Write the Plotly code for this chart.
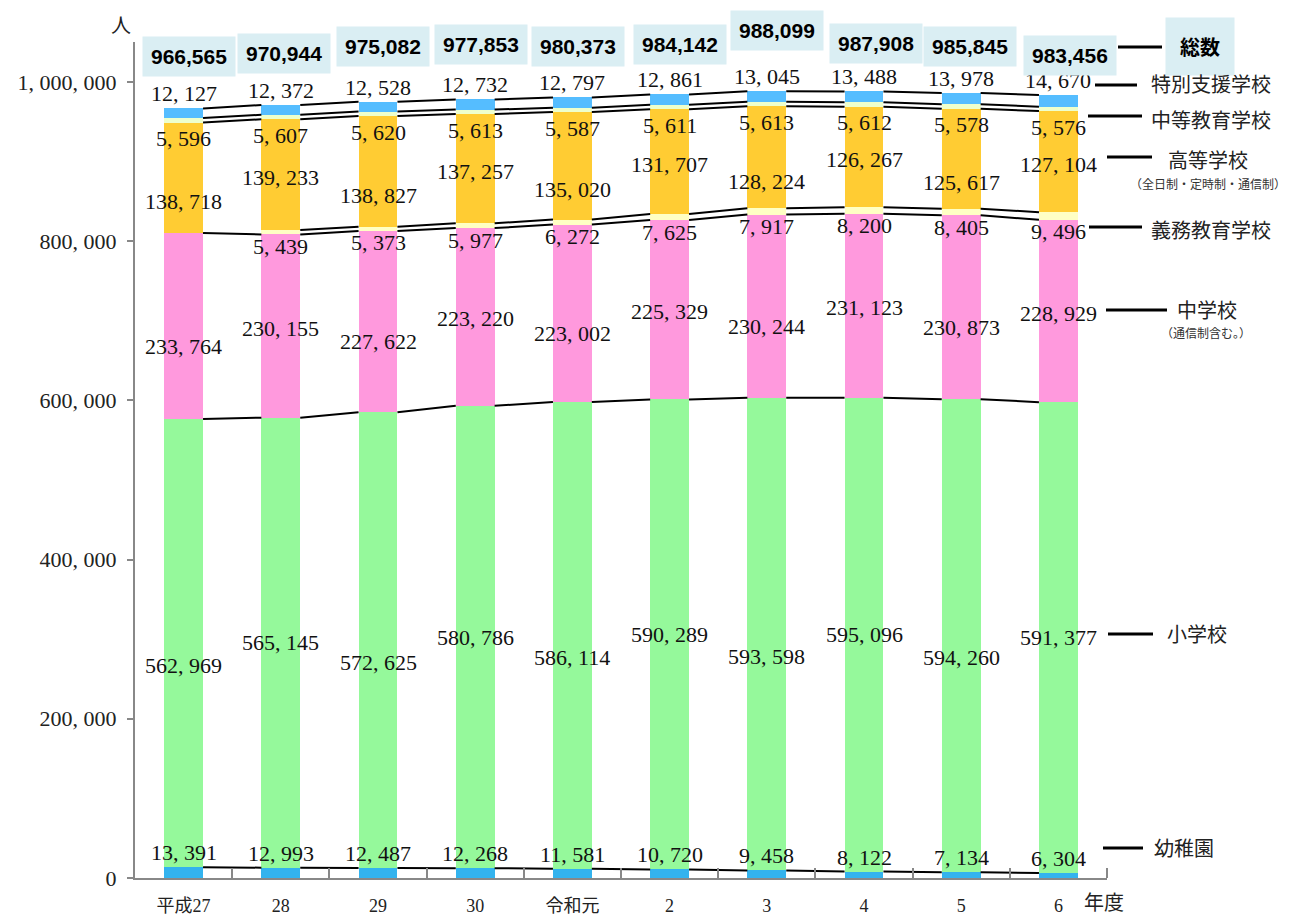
import plotly.graph_objects as go

years = ["平成27", "28", "29", "30", "令和元", "2", "3", "4", "5", "6"]

kindergarten = [13391, 12993, 12487, 12268, 11581, 10720, 9458, 8122, 7134, 6304]
elementary = [562969, 565145, 572625, 580786, 586114, 590289, 593598, 595096, 594260, 591377]
junior_high = [233764, 230155, 227622, 223220, 223002, 225329, 230244, 231123, 230873, 228929]
compulsory = [0, 5439, 5373, 5977, 6272, 7625, 7917, 8200, 8405, 9496]
high_school = [138718, 139233, 138827, 137257, 135020, 131707, 128224, 126267, 125617, 127104]
secondary = [5596, 5607, 5620, 5613, 5587, 5611, 5613, 5612, 5578, 5576]
special = [12127, 12372, 12528, 12732, 12797, 12861, 13045, 13488, 13978, 14670]
totals = [966565, 970944, 975082, 977853, 980373, 984142, 988099, 987908, 985845, 983456]

y_ticks = [0, 200000, 400000, 600000, 800000, 1000000]

series = [
    ("幼稚園", kindergarten, "#33b3ee"),
    ("小学校", elementary, "#95f99b"),
    ("中学校", junior_high, "#ff99dd"),
    ("義務教育学校", compulsory, "#ffffc4"),
    ("高等学校", high_school, "#ffcc33"),
    ("中等教育学校", secondary, "#eeffcc"),
    ("特別支援学校", special, "#55bdff"),
]

SERIF = "Liberation Serif, Noto Sans CJK JP, serif"
SANS_JP = "Noto Sans CJK JP, sans-serif"
BAR_W = 0.4

# plot box in screenshot pixels; the page body adds an 8px offset
PAGE = 8
L, R, T, B = 135, 1107, 42, 878


def px(x):
    return (x - L) / (R - L)


def py(y):
    return (B - y) / (B - T)


def fmt(v):
    return f"{v:,}".replace(",", ", ")


xs = list(range(len(years)))

fig = go.Figure()
for name, vals, color in series:
    fig.add_trace(go.Bar(
        x=xs, y=vals, name=name, width=BAR_W,
        marker=dict(color=color, line=dict(width=0)),
        hoverinfo="y+name",
    ))

# cumulative tops
cum = []
run = [0] * len(xs)
for _, vals, _ in series:
    run = [a + b for a, b in zip(run, vals)]
    cum.append(run)

# connector lines between bars
for k, tops in enumerate(cum):
    lx, ly = [], []
    for i in range(len(xs) - 1):
        if k == 3 and compulsory[i] == 0:
            continue
        lx += [i + BAR_W / 2, i + 1 - BAR_W / 2, None]
        ly += [tops[i], tops[i + 1], None]
    fig.add_trace(go.Scatter(
        x=lx, y=ly, mode="lines", line=dict(color="black", width=2),
        hoverinfo="skip", showlegend=False,
    ))

lab_font = dict(family=SERIF, size=22, color="#111")
ann = []


def label(i, y, v, yshift, yanchor="middle"):
    ann.append(dict(x=i, y=y, xref="x", yref="y", text=fmt(v), showarrow=False,
                    font=lab_font, yshift=yshift, xanchor="center", yanchor=yanchor))


for i in xs:
    stag = i % 2 == 0
    label(i, cum[0][i], kindergarten[i], 0, "bottom")
    label(i, cum[0][i] + elementary[i] / 2, elementary[i], -22 if stag else 0)
    label(i, cum[1][i] + junior_high[i] / 2, junior_high[i], -20 if stag else -2)
    if compulsory[i] > 0:
        label(i, cum[2][i], compulsory[i], -12)
    label(i, cum[3][i] + high_school[i] / 2, high_school[i], -24 if stag else -3)
    label(i, cum[4][i], secondary[i], -16)
    label(i, cum[6][i], special[i], 0, "bottom")

# total boxes
box_dx = [5, 3, 5, 6, 6, 10, 10, 12, 9, 12]
box_y = [57, 53, 47, 45, 46, 45, 30, 44, 47, 55]
for i in xs:
    ann.append(dict(
        x=i, xref="x", y=py(box_y[i]), yref="paper", xshift=box_dx[i],
        xanchor="center", yanchor="middle",
        text=f"<b>{totals[i]:,}</b>", showarrow=False,
        font=dict(family="Liberation Sans, Arial, sans-serif", size=21, color="black"),
        bgcolor="#daeef3", borderpad=8,
    ))

# side legend labels
side = [
    ("<b>総数</b>", 1200, 47, 20, (1118, 1162, 47)),
    ("特別支援学校", 1211, 84, 20, (1095, 1137, 85)),
    ("中等教育学校", 1211, 120, 20, (1088, 1142, 116)),
    ("高等学校", 1208, 159, 20, (1107, 1152, 157)),
    ("義務教育学校", 1211, 229, 20, (1089, 1142, 227)),
    ("中学校", 1207, 309, 20, (1106, 1167, 310)),
    ("小学校", 1197, 633, 20, (1108, 1153, 634)),
    ("幼稚園", 1184, 847, 20, (1103, 1143, 848)),
]
shapes = []


def free_text(text, cx, cy, size, **kw):
    a = dict(x=px(cx), y=py(cy), xref="paper", yref="paper", text=text,
             showarrow=False, xanchor="center", yanchor="middle",
             font=dict(family=SANS_JP, size=size, color=kw.pop("color", "#222")))
    a.update(kw)
    ann.append(a)


for text, cx, cy, size, (x0, x1, ly) in side:
    if text == "<b>総数</b>":
        free_text(text, cx, cy, size, bgcolor="#daeef3", borderpad=14, color="black")
    else:
        free_text(text, cx, cy, size)
    shapes.append(dict(type="line", xref="paper", yref="paper",
                       x0=px(x0), x1=px(x1), y0=py(ly), y1=py(ly),
                       line=dict(color="black", width=3)))

free_text("（全日制・定時制・通信制）", 1208, 183, 12, color="#333")
free_text("（通信制含む。）", 1206, 332, 12, color="#333")
free_text("人", 121, 24, 20)
free_text("年度", 1104, 902, 20)

fig.update_layout(
    barmode="stack",
    width=1301 - PAGE, height=919 - PAGE,
    margin=dict(l=L - PAGE, r=1301 - R, t=T - PAGE, b=919 - B, autoexpand=False),
    paper_bgcolor="white", plot_bgcolor="white",
    showlegend=False,
    annotations=ann, shapes=shapes,
)
fig.update_xaxes(
    range=[-0.5, 9.5], tickmode="array", tickvals=xs, ticktext=years,
    ticks="", showline=True, linecolor="#888", linewidth=2, showgrid=False,
    zeroline=False, tickfont=dict(family=SERIF, size=18, color="#222"),
    ticklabelstandoff=10,
    minor=dict(tickmode="array", tickvals=[i + 0.5 for i in xs], ticks="inside",
               ticklen=10, tickcolor="#888", tickwidth=2, showgrid=False),
)
fig.update_yaxes(
    range=[0, 1050000], tickmode="array", tickvals=y_ticks,
    ticktext=[fmt(v) for v in y_ticks], ticks="outside", ticklen=6,
    tickcolor="#888", tickwidth=2, showline=True, linecolor="#888", linewidth=2,
    showgrid=False, zeroline=False, ticklabelstandoff=6,
    tickfont=dict(family=SERIF, size=22, color="#222"),
)

fig.write_html("out.html")
